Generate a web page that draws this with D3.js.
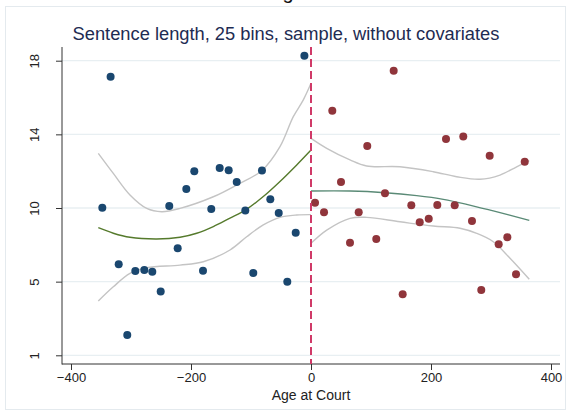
<!DOCTYPE html>
<html>
<head>
<meta charset="utf-8">
<script src="https://cdn.jsdelivr.net/npm/d3@7"></script>
<style>
  html, body { margin: 0; padding: 0; background: #fff; }
  svg { display: block; font-family: "Liberation Sans", Arial, sans-serif; }
</style>
</head>
<body>
<svg id="chart" width="571" height="416"></svg>
<script>
// Binned means of sentence length by age at court (days from cutoff)
const leftAge = [-334, -11, -194.5, -207.8, -152.2, -137.2, -123.8, -81.7, -67.8, -347.8,
  -236.2, -166.2, -109.5, -53.8, -25.5, -222.2, -320.5, -292.8, -277.8, -264.5,
  -180, -96.2, -39.5, -250.5, -306.2];
const leftMean = [17.13, 18.27, 11.99, 11.03, 12.17, 12.05, 11.41, 12.03, 10.47, 10.02,
  10.11, 9.94, 9.87, 9.73, 8.66, 7.81, 6.94, 6.58, 6.63, 6.54,
  6.59, 6.47, 6.0, 5.47, 3.10];

const rightAge = [137.8, 35.5, 93.8, 225, 253.8, 297.8, 356.2, 50, 123.3, 6.7,
  21.7, 79.5, 167.2, 210.5, 239.5, 181.2, 196.2, 268.3, 65, 108.8,
  312.8, 327.2, 341.7, 283.8, 152.8];
const rightMean = [17.46, 15.28, 13.37, 13.75, 13.89, 12.84, 12.51, 11.41, 10.80, 10.29,
  9.77, 9.77, 10.15, 10.16, 10.15, 9.22, 9.42, 9.29, 8.11, 8.31,
  8.03, 8.41, 6.40, 5.54, 5.31];

// Fitted curve and confidence band, below the cutoff
const leftFitAge = [-354.5, -329.5, -301.7, -257.2, -218.3, -190.5, -162.8, -135, -109.5, -79.5, -51.7, -23.8, 0];
const leftFit    = [8.93, 8.63, 8.41, 8.32, 8.41, 8.63, 8.99, 9.45, 9.88, 10.62, 11.44, 12.34, 13.15];
const leftHiAge  = [-354.5, -329.5, -301.7, -273.8, -248.8, -218.3, -162.8, -123.8, -81.7, -51.7, -29.5, -12.8, 0];
const leftHi     = [12.97, 11.88, 10.71, 9.98, 9.80, 9.98, 10.61, 11.25, 12.04, 13.33, 14.96, 15.87, 16.77];
const leftLoAge  = [-354.5, -329.5, -301.7, -273.8, -218.3, -179.5, -135, -107.2, -79.5, -51.7, -23.8, 0];
const leftLo     = [4.95, 5.72, 6.45, 6.76, 6.90, 7.08, 7.72, 8.44, 9.08, 9.49, 9.62, 9.64];

// Fitted curve and confidence band, above the cutoff
const rightFitAge = [0, 65, 123.3, 176.2, 220.5, 259.5, 303.8, 363.8];
const rightFit    = [10.92, 10.92, 10.83, 10.67, 10.47, 10.20, 9.84, 9.33];
const rightHiAge  = [0, 26.2, 65, 92.8, 148.3, 203.8, 242.8, 281.7, 315, 342.8, 363.8];
const rightHi     = [13.78, 13.24, 12.61, 12.28, 12.24, 11.97, 11.70, 11.56, 11.79, 12.24, 12.57];
const rightLoAge  = [0, 26.2, 65, 92.8, 148.3, 203.8, 248.3, 276.2, 303.8, 331.7, 363.8];
const rightLo     = [8.08, 8.80, 9.44, 9.49, 9.25, 9.02, 8.90, 8.62, 8.17, 7.27, 6.13];

// Axis ticks
const xTicks = [-400, -200, 0, 200, 400];
const yTicks = [2, 6, 10, 14, 18];
const yTickLabels = ["1", "5", "10", "14", "18"];

const titleText = "Sentence length, 25 bins, sample, without covariates";
const xTitle = "Age at Court";
const cutoff = 0;

const svg = d3.select("#chart");

const plot = { left: 62, right: 560, top: 47, bottom: 364 };

const x = d3.scaleLinear().domain([-400, 400]).range([71, 551]);
const y = d3.scaleLinear().domain([2, 18]).range([355.3, 60.7]);

// outer graph frame
svg.append("rect")
  .attr("x", 5.5).attr("y", 6.5).attr("width", 560).attr("height", 403)
  .attr("fill", "none").attr("stroke", "#e4eaee").attr("stroke-width", 1);

// cropped heading glyph at the very top edge
svg.append("text")
  .attr("x", 288).attr("y", -1.5)
  .attr("text-anchor", "middle")
  .attr("font-size", 20).attr("fill", "#111")
  .text("g");

// horizontal grid lines
svg.append("g").selectAll("line").data(yTicks).join("line")
  .attr("x1", plot.left).attr("x2", plot.right)
  .attr("y1", d => y(d)).attr("y2", d => y(d))
  .attr("stroke", "#e8eff2").attr("stroke-width", 1.3);

// y axis
const yAxis = svg.append("g")
  .attr("transform", `translate(${plot.left},0)`)
  .call(d3.axisLeft(y).tickValues(yTicks).tickSize(6).tickPadding(0)
    .tickFormat((d, i) => yTickLabels[i]));
yAxis.select(".domain").remove();
yAxis.selectAll(".tick line").attr("stroke", "#333");
yAxis.selectAll(".tick text")
  .attr("font-family", "Liberation Sans, Arial, sans-serif")
  .attr("font-size", 13).attr("fill", "#222")
  .attr("text-anchor", "middle")
  .attr("dy", 0)
  .attr("transform", "translate(-23,0) rotate(-90)")
  .attr("x", 0).attr("y", 0);

// x axis
const xAxis = svg.append("g")
  .attr("transform", `translate(0,${plot.bottom})`)
  .call(d3.axisBottom(x).tickValues(xTicks).tickSize(6).tickPadding(3)
    .tickFormat(d3.format("d")));
xAxis.select(".domain").remove();
xAxis.selectAll(".tick line").attr("stroke", "#333");
xAxis.selectAll(".tick text")
  .attr("font-family", "Liberation Sans, Arial, sans-serif")
  .attr("font-size", 13).attr("fill", "#222");

// axis lines
svg.append("line")
  .attr("x1", plot.left).attr("x2", plot.left)
  .attr("y1", plot.top).attr("y2", plot.bottom + 0.5)
  .attr("stroke", "#333").attr("stroke-width", 1);
svg.append("line")
  .attr("x1", plot.left).attr("x2", plot.right)
  .attr("y1", plot.bottom).attr("y2", plot.bottom)
  .attr("stroke", "#333").attr("stroke-width", 1);

// axis title
svg.append("text")
  .attr("x", x(0)).attr("y", 400)
  .attr("text-anchor", "middle")
  .attr("font-size", 14).attr("fill", "#222")
  .text(xTitle);

// chart title
svg.append("text")
  .attr("x", 286).attr("y", 40)
  .attr("text-anchor", "middle")
  .attr("font-size", 18.3).attr("fill", "#1e2b52")
  .text(titleText);

const line = (ages, vals) => d3.line()
  .x((d, i) => x(ages[i]))
  .y((d, i) => y(vals[i]))
  .curve(d3.curveCatmullRom.alpha(0.5))(vals);

// confidence bands
[[leftHiAge, leftHi], [leftLoAge, leftLo], [rightHiAge, rightHi], [rightLoAge, rightLo]]
  .forEach(([a, v]) => {
    svg.append("path").attr("d", line(a, v))
      .attr("fill", "none").attr("stroke", "#c4c4c4").attr("stroke-width", 1.4);
  });

// fitted curves
svg.append("path").attr("d", line(leftFitAge, leftFit))
  .attr("fill", "none").attr("stroke", "#557a2c").attr("stroke-width", 1.4);
svg.append("path").attr("d", line(rightFitAge, rightFit))
  .attr("fill", "none").attr("stroke", "#5a8a76").attr("stroke-width", 1.4);

// binned means
svg.append("g").selectAll("circle").data(leftMean).join("circle")
  .attr("cx", (d, i) => x(leftAge[i])).attr("cy", d => y(d))
  .attr("r", 4).attr("fill", "#1a476f");
svg.append("g").selectAll("circle").data(rightMean).join("circle")
  .attr("cx", (d, i) => x(rightAge[i])).attr("cy", d => y(d))
  .attr("r", 4).attr("fill", "#90353b");

// cutoff
svg.append("line")
  .attr("x1", x(cutoff)).attr("x2", x(cutoff))
  .attr("y1", plot.top).attr("y2", plot.bottom)
  .attr("stroke", "#d03a68").attr("stroke-width", 2)
  .attr("stroke-dasharray", "8,4");
</script>
</body>
</html>
